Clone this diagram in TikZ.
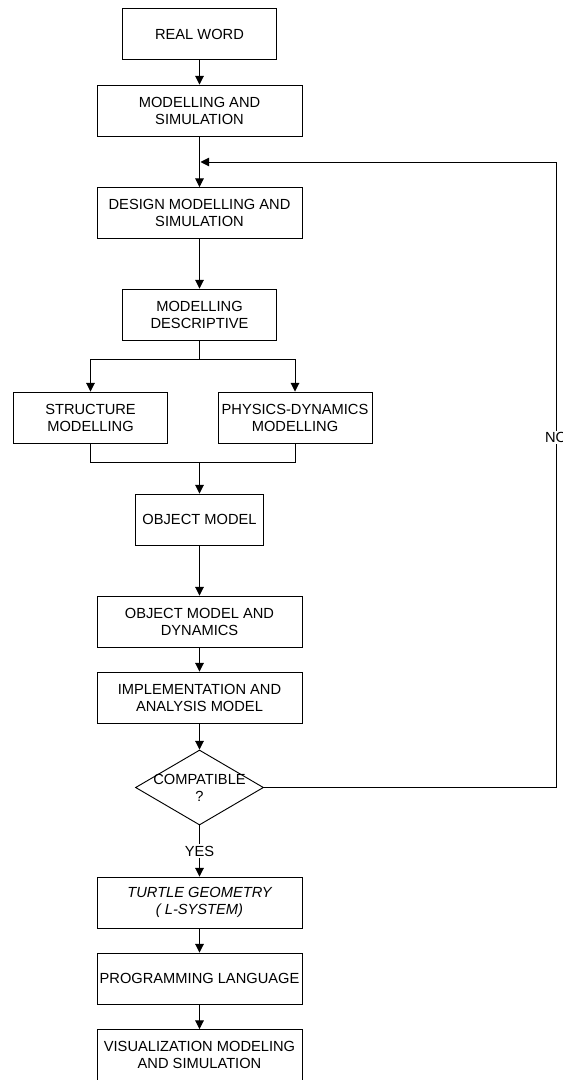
\documentclass[tikz,border=0pt]{standalone}
\usepackage{fontspec}
\setmainfont{Liberation Sans}
\usetikzlibrary{%
  arrows.meta,%
  shapes.geometric,% wg. diamond
  positioning%
}

\begin{document}
\begin{tikzpicture}
[x=0.75pt, y=-0.75pt, draw=black, line width=0.7pt, >={Triangle[width=6.5pt,length=6.5pt]},
block/.style={rectangle, draw, fill=white, inner sep=0pt, minimum width=115.5pt, minimum height=38.25pt, align=center, font=\fontsize{11}{12.75}\selectfont},
wideblock/.style={block, minimum width=153.75pt},
narrowblock/.style={block, minimum width=96pt},
decision/.style={diamond, draw, aspect=1.7, inner xsep=-5pt, inner ysep=0pt, minimum width=96pt, minimum height=56.25pt, align=center, font=\fontsize{11}{12.75}\selectfont},
tag/.style={fill=white, inner sep=1pt, font=\fontsize{11}{12.75}\selectfont}]

\useasboundingbox (0,0) rectangle (563,1080);

\node[block] (real) at (199.5,34) {REAL WORD};
\node[wideblock] (modsim) at (199.5,110.5) {MODELLING AND\\SIMULATION};
\node[wideblock] (design) at (199.5,213) {DESIGN MODELLING AND\\SIMULATION};
\node[block] (descr) at (199.5,314.5) {MODELLING\\DESCRIPTIVE};

\node[block] (struct) at (90.5,417.5) {STRUCTURE\\MODELLING};
\node[block] (phys) at (295,417.5) {PHYSICS-DYNAMICS\\MODELLING};

\node[narrowblock] (obj) at (199.5,519.5) {OBJECT MODEL};
\node[wideblock] (objdyn) at (199.5,621.5) {OBJECT MODEL AND\\DYNAMICS};
\node[wideblock] (impl) at (199.5,697.5) {IMPLEMENTATION AND\\ANALYSIS MODEL};
\node[decision] (compat) at (199.5,787.5) {COMPATIBLE\\?};

\node[wideblock] (turtle) at (199.5,902.5) {\itshape TURTLE GEOMETRY\\\itshape ( L-SYSTEM)};
\node[wideblock] (prog) at (199.5,978.5) {PROGRAMMING LANGUAGE};
\node[wideblock] (visual) at (199.5,1055) {VISUALIZATION MODELING\\AND SIMULATION};

\coordinate (split) at (199.5,359);
\coordinate (merge) at (199.5,462);
\coordinate (turn) at (556,162);
\coordinate (back) at (200.5,162);

\draw[->] (real) -- (modsim);
\draw[->] (modsim) -- (design);
\draw[->] (design) -- (descr);
\draw (descr) -- (split);
\draw[->] (split) -| (struct);
\draw[->] (split) -| (phys);
\draw (struct) |- (merge);
\draw (phys) |- (merge);
\draw[->] (merge) -- (obj);
\draw[->] (obj) -- (objdyn);
\draw[->] (objdyn) -- (impl);
\draw[->] (impl) -- (compat);
\draw[->] (compat) -- node[tag] {YES} (turtle);
\draw[->] (turtle) -- (prog);
\draw[->] (prog) -- (visual);

\draw (compat.east) -| node[tag, pos=0.78] {NO} (turn);
\draw[->] (turn) -- (back);

\end{tikzpicture}
\end{document}
